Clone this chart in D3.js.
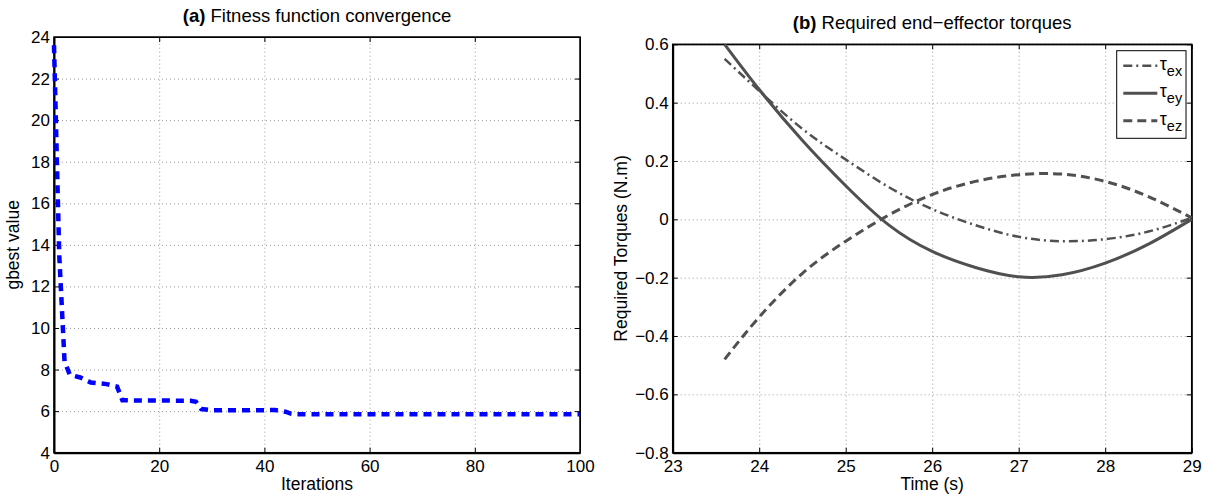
<!DOCTYPE html>
<html>
<head>
<meta charset="utf-8">
<script src="https://cdn.jsdelivr.net/npm/d3@7"></script>
<style>
  body { margin: 0; background: #fff; }
  svg { font-family: "Liberation Sans", Arial, Helvetica, sans-serif; }
  .grid line { stroke: #999; stroke-dasharray: 1,3; }
  .grid path { display: none; }
  .axis path, .axis line { stroke: #000; }
</style>
</head>
<body>
<script>
// (a) gbest value per iteration (breakpoints)
const iterations = [0, 1, 2, 3, 5, 7, 10, 12, 13, 26, 27, 28, 30, 42, 43, 44, 45, 46, 100];
const gbest = [23.6, 13.5, 8.4, 7.75, 7.62, 7.38, 7.3, 7.18, 6.52, 6.5, 6.45, 6.1, 6.04, 6.05, 6.02, 5.97, 5.88, 5.85, 5.85];
const iterTicks = [0, 20, 40, 60, 80, 100];
const gbestTicks = [4, 6, 8, 10, 12, 14, 16, 18, 20, 22, 24];

// (b) required end-effector torques
const timeS = [23.6, 24, 24.5, 25, 25.5, 26, 26.5, 27, 27.5, 28, 28.5, 29];
const tauEx = [0.55, 0.44, 0.31, 0.205, 0.11, 0.035, -0.02, -0.06, -0.075, -0.068, -0.042, 0.005];
const tauEy = [0.60, 0.445, 0.27, 0.115, -0.02, -0.11, -0.165, -0.197, -0.19, -0.15, -0.085, 0.0];
const tauEz = [-0.48, -0.335, -0.185, -0.075, 0.015, 0.085, 0.13, 0.153, 0.155, 0.13, 0.078, 0.005];
const timeTicks = [23, 24, 25, 26, 27, 28, 29];
const torqueTicks = [-0.8, -0.6, -0.4, -0.2, 0, 0.2, 0.4, 0.6];
const legendNames = ["ex", "ey", "ez"];

const W = 1211, H = 496;
const svg = d3.select("body").append("svg").attr("width", W).attr("height", H);
const minus = s => s.replace("-", "\u2212");

function drawPanel(cfg) {
  const g = svg.append("g");
  const x = d3.scaleLinear().domain(cfg.xDomain).range([cfg.left, cfg.right]);
  const y = d3.scaleLinear().domain(cfg.yDomain).range([cfg.bottom, cfg.top]);
  const w = cfg.right - cfg.left, h = cfg.bottom - cfg.top;

  // dotted grid
  g.append("g").attr("class", "grid")
    .attr("transform", `translate(0,${cfg.bottom})`)
    .call(d3.axisBottom(x).tickValues(cfg.xTicks).tickSize(-h).tickFormat(""));
  g.append("g").attr("class", "grid")
    .attr("transform", `translate(${cfg.left},0)`)
    .call(d3.axisLeft(y).tickValues(cfg.yTicks).tickSize(-w).tickFormat(""));

  // inward ticks on all four sides
  const bottomAxis = g.append("g").attr("class", "axis")
    .attr("transform", `translate(0,${cfg.bottom})`)
    .call(d3.axisBottom(x).tickValues(cfg.xTicks).tickSizeInner(-5).tickSizeOuter(0)
      .tickPadding(7).tickFormat(cfg.xFormat));
  g.append("g").attr("class", "axis")
    .attr("transform", `translate(0,${cfg.top})`)
    .call(d3.axisTop(x).tickValues(cfg.xTicks).tickSizeInner(-5).tickSizeOuter(0).tickFormat(""));
  const leftAxis = g.append("g").attr("class", "axis")
    .attr("transform", `translate(${cfg.left},0)`)
    .call(d3.axisLeft(y).tickValues(cfg.yTicks).tickSizeInner(-5).tickSizeOuter(0)
      .tickPadding(4).tickFormat(cfg.yFormat));
  g.append("g").attr("class", "axis")
    .attr("transform", `translate(${cfg.right},0)`)
    .call(d3.axisRight(y).tickValues(cfg.yTicks).tickSizeInner(-5).tickSizeOuter(0).tickFormat(""));

  g.selectAll(".axis text").attr("font-size", 17).attr("fill", "#000")
    .attr("font-family", "Liberation Sans, Arial, sans-serif");
  bottomAxis.selectAll("path").attr("stroke-width", 2);
  leftAxis.selectAll("path").attr("stroke-width", 2);

  // box
  g.append("rect")
    .attr("x", cfg.left).attr("y", cfg.top).attr("width", w).attr("height", h)
    .attr("fill", "none").attr("stroke", "#000").attr("stroke-width", 1.5);

  // title
  const t = g.append("text")
    .attr("x", (cfg.left + cfg.right) / 2).attr("y", cfg.top - 15)
    .attr("text-anchor", "middle").attr("font-size", 18.5);
  t.append("tspan").attr("font-weight", "bold").text(cfg.tag);
  t.append("tspan").text(" " + cfg.title);

  // axis labels
  g.append("text")
    .attr("x", (cfg.left + cfg.right) / 2).attr("y", cfg.bottom + 37)
    .attr("text-anchor", "middle").attr("font-size", 17.5).text(cfg.xLabel);
  g.append("text")
    .attr("transform", `translate(${cfg.yLabelX},${(cfg.top + cfg.bottom) / 2}) rotate(-90)`)
    .attr("text-anchor", "middle").attr("font-size", 17.5).text(cfg.yLabel);

  return { g, x, y };
}

// ---- panel (a)
const a = drawPanel({
  left: 54, right: 580, top: 37, bottom: 452.7,
  xDomain: [0, 100], yDomain: [4, 24],
  xTicks: iterTicks, yTicks: gbestTicks,
  xFormat: d3.format("d"), yFormat: d3.format("d"),
  tag: "(a)", title: "Fitness function convergence",
  xLabel: "Iterations", yLabel: "gbest value", yLabelX: 19
});

a.g.append("path")
  .datum(iterations.map((d, i) => [d, gbest[i]]))
  .attr("fill", "none")
  .attr("stroke", "#0000ff")
  .attr("stroke-width", 4.5)
  .attr("stroke-dasharray", "8,6")
  .attr("d", d3.line().x(d => a.x(d[0])).y(d => a.y(d[1])));

// ---- panel (b)
const b = drawPanel({
  left: 672.7, right: 1191.7, top: 44.3, bottom: 452.7,
  xDomain: [23, 29], yDomain: [-0.8, 0.6],
  xTicks: timeTicks, yTicks: torqueTicks,
  xFormat: d3.format("d"), yFormat: d => minus(d3.format("~g")(d)),
  tag: "(b)", title: "Required end\u2212effector torques",
  xLabel: "Time (s)", yLabel: "Required Torques (N.m)", yLabelX: 627
});

const lineColor = "#505050";
const seriesStyle = [
  { values: tauEx, width: 2.5, dash: "9,4,2,4" },
  { values: tauEy, width: 3, dash: null },
  { values: tauEz, width: 3, dash: "9,5" }
];

const torqueLine = d3.line()
  .x(d => b.x(d[0])).y(d => b.y(d[1]))
  .curve(d3.curveNatural);

seriesStyle.forEach(s => {
  b.g.append("path")
    .datum(timeS.map((t, i) => [t, s.values[i]]))
    .attr("fill", "none")
    .attr("stroke", lineColor)
    .attr("stroke-width", s.width)
    .attr("stroke-dasharray", s.dash)
    .attr("d", torqueLine);
});

// legend
const lg = b.g.append("g").attr("transform", "translate(1116.7,50.7)");
lg.append("rect").attr("width", 69.3).attr("height", 87.6)
  .attr("fill", "#fff").attr("stroke", "#000").attr("stroke-width", 1);
legendNames.forEach((name, i) => {
  const yy = 15 + i * 27.5;
  lg.append("line")
    .attr("x1", 6.6).attr("x2", 40.6).attr("y1", yy).attr("y2", yy)
    .attr("stroke", lineColor)
    .attr("stroke-width", seriesStyle[i].width)
    .attr("stroke-dasharray", seriesStyle[i].dash);
  const txt = lg.append("text").attr("x", 43).attr("y", yy + 4).attr("font-size", 18);
  txt.append("tspan").text("\u03c4");
  txt.append("tspan").attr("dy", 6).attr("font-size", 14.5).text(name);
});
</script>
</body>
</html>
